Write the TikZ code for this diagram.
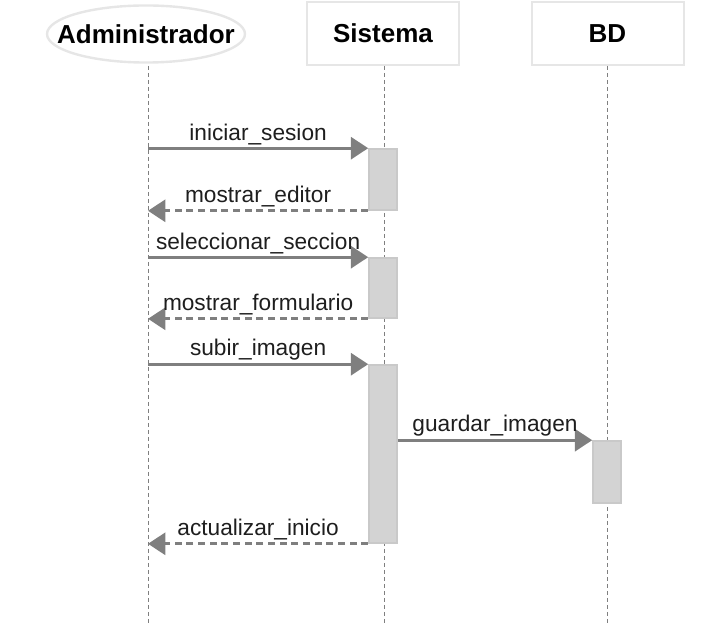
\documentclass[tikz,border=0pt]{standalone}
\usepackage{fontspec}
\setmainfont{Liberation Sans}
\usepackage{tikz}
\usetikzlibrary{arrows.meta}
\usetikzlibrary{shapes.geometric}
\usetikzlibrary{positioning}

\definecolor{msggray}{HTML}{7F7F7F}
\definecolor{actfill}{HTML}{D3D3D3}
\definecolor{actdraw}{HTML}{C9C9C9}
\definecolor{headline}{HTML}{E6E6E6}
\definecolor{labeltext}{HTML}{1E1E1E}

\begin{document}
\begin{tikzpicture}[
            x = 0.75pt, y = -0.75pt, % pixel grid, y pointing down
            > = {Triangle[length=13pt, width=16.5pt]}, % arrow head style
            semithick % line style
        ]

        \tikzstyle{actor}=[
            rectangle,
            inner sep = 0pt,
            font = \fontsize{19.5}{22}\selectfont\bfseries
        ]
        \tikzstyle{bubble}=[
            draw = headline,
            line width = 1.8pt,
            fill = white
        ]
        \tikzstyle{object}=[
            rectangle,
            draw = headline,
            line width = 1.5pt,
            fill = white,
            minimum width = 114pt,
            minimum height = 47.25pt,
            font = \fontsize{19.5}{22}\selectfont\bfseries
        ]
        \tikzstyle{lifeline}=[
            draw = msggray,
            line width = 0.75pt,
            dash pattern = on 3pt off 2.25pt
        ]
        \tikzstyle{act}=[
            rectangle,
            draw = actdraw,
            line width = 1.2pt,
            fill = actfill,
            minimum width = 21pt,
            inner sep = 0pt
        ]
        \tikzstyle{call}=[
            draw = msggray,
            line width = 2.25pt,
            ->
        ]
        \tikzstyle{reply}=[
            call,
            dash pattern = on 5.25pt off 3.5pt
        ]
        \tikzstyle{msg}=[
            above,
            inner sep = 1.5pt,
            text = labeltext,
            font = \fontsize{17}{20}\selectfont
        ]

        \useasboundingbox (0,0) rectangle (719,623);

	% participants
        \draw[bubble] (146,34) ellipse [x radius = 74.25pt, y radius = 21.4pt];
        \node[actor] (Adm) at (146,34) {Administrador};
        \node[object] (Sis) at (383,33.5) {Sistema};
        \node[object] (BD) at (607.5,33.5) {BD};

	% lifelines
        \coordinate (AdmEnd) at (148,623);
        \coordinate (SisEnd) at (384,623);
        \coordinate (BDEnd) at (607,623);

        \draw[lifeline] (148,66) -- (AdmEnd);
        \draw[lifeline] (SisEnd |- Sis.south) -- (SisEnd);
        \draw[lifeline] (BDEnd |- BD.south) -- (BDEnd);

	% activations
        \node[act, minimum height = 45.75pt] (A1) at (383,179.5) {};
        \node[act, minimum height = 45pt] (A2) at (383,288) {};
        \node[act, minimum height = 133.5pt] (A3) at (383,454) {};
        \node[act, minimum height = 46.5pt] (A4) at (607,472) {};

	% messages
        \draw[call] (AdmEnd |- A1.north west) -- node[msg] {iniciar\_sesion} (A1.north west);
        \draw[reply] (A1.south west) -- node[msg] {mostrar\_editor} (AdmEnd |- A1.south west);

        \draw[call] (AdmEnd |- A2.north west) -- node[msg] {seleccionar\_seccion} (A2.north west);
        \draw[reply] (A2.south west) -- node[msg] {mostrar\_formulario} (AdmEnd |- A2.south west);

        \draw[call] (AdmEnd |- A3.north west) -- node[msg] {subir\_imagen} (A3.north west);
        \draw[call] (A4.north west -| A3.east) -- node[msg] {guardar\_imagen} (A4.north west);
        \draw[reply] (A3.south west) -- node[msg] {actualizar\_inicio} (AdmEnd |- A3.south west);

  \end{tikzpicture}
\end{document}
